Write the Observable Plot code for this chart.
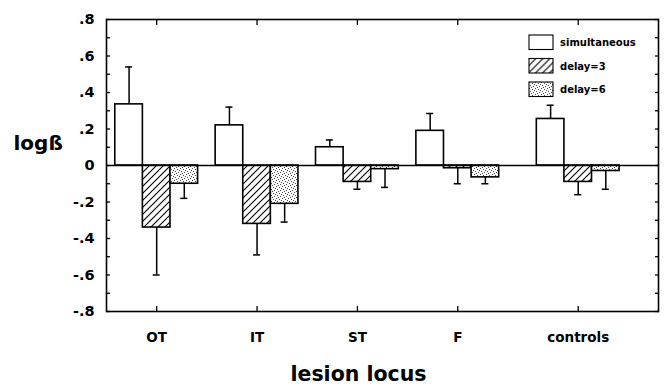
<!DOCTYPE html>
<html>
<head>
<meta charset="utf-8">
<script src="https://cdn.jsdelivr.net/npm/d3@7"></script>
<script src="https://cdn.jsdelivr.net/npm/@observablehq/plot@0.6"></script>
<style>
  html, body { margin: 0; padding: 0; background: #fff; }
  #chart { position: relative; width: 665px; height: 386px; }
  svg { font-family: "DejaVu Sans", Verdana, sans-serif; }
</style>
</head>
<body>
<div id="chart"></div>
<script>
// ---- data ----
const categories = ["OT", "IT", "ST", "F", "controls"];
const categoryPositions = [1, 2, 3, 4, 5.2];
const conditions = ["simultaneous", "delay=3", "delay=6"];
const simultaneous    = [0.335, 0.22, 0.10, 0.19, 0.255];
const simultaneousErr = [0.54, 0.32, 0.14, 0.285, 0.33];
const delay3          = [-0.34, -0.32, -0.09, -0.015, -0.09];
const delay3Err       = [-0.60, -0.49, -0.13, -0.10, -0.16];
const delay6          = [-0.10, -0.21, -0.02, -0.065, -0.03];
const delay6Err       = [-0.18, -0.31, -0.12, -0.10, -0.13];
const yTickValues = [-0.8, -0.6, -0.4, -0.2, 0, 0.2, 0.4, 0.6, 0.8];
const yMinorTicks = d3.range(-8, 9).map(i => i / 10);

// ---- styling ----
const fills = {"simultaneous": "white", "delay=3": "url(#hatch)", "delay=6": "url(#dots)"};
const barW = 0.275;
const capW = 0.035;
const offsets = {"simultaneous": -barW, "delay=3": 0, "delay=6": barW};

const series = [simultaneous, delay3, delay6];
const errs = [simultaneousErr, delay3Err, delay6Err];
const rows = [];
conditions.forEach((c, j) => {
  categories.forEach((cat, i) => {
    const xc = categoryPositions[i] + offsets[c];
    rows.push({cat, cond: c, xc, x1: xc - barW / 2, x2: xc + barW / 2, c1: xc - capW, c2: xc + capW,
      v: series[j][i], e: errs[j][i], fill: fills[c]});
  });
});

const fmt = d => d === 0 ? "0" : (d < 0 ? "-" : "") + "." + Math.round(Math.abs(d) * 10);
const catName = d => categories[categoryPositions.indexOf(d)];

const plot = Plot.plot({
  width: 665,
  height: 386,
  marginLeft: 106,
  marginRight: 7,
  marginTop: 19,
  marginBottom: 75,
  style: {fontFamily: "'DejaVu Sans', Verdana, sans-serif", background: "white", color: "black"},
  x: {type: "linear", domain: [0.5, 6], axis: null},
  y: {domain: [-0.8, 0.8], axis: null},
  color: {type: "identity"},
  marks: [
    // error bars
    Plot.ruleX(rows, {x: "xc", y1: "v", y2: "e", stroke: "black", strokeWidth: 1.5}),
    Plot.ruleY(rows, {y: "e", x1: "c1", x2: "c2", stroke: "black", strokeWidth: 1.5}),
    // bars
    Plot.rect(rows, {x1: "x1", x2: "x2", y1: 0, y2: "v", fill: "fill", stroke: "black", strokeWidth: 1.6}),
    // zero line
    Plot.ruleY([0], {stroke: "black", strokeWidth: 1.6}),
    // frame
    Plot.frame({stroke: "black", strokeWidth: 1.6}),
    // inward ticks left/right
    Plot.axisY({ticks: yMinorTicks, anchor: "left", tickSize: -4, text: null, strokeWidth: 1.3}),
    Plot.axisY({ticks: yMinorTicks, anchor: "right", tickSize: -4, text: null, strokeWidth: 1.3}),
    Plot.text(yTickValues, {y: d => d, frameAnchor: "left", textAnchor: "end", dx: -12, text: fmt,
      fontSize: 14.5, fontWeight: "bold"}),
    // inward ticks top/bottom
    Plot.axisX({ticks: categoryPositions, anchor: "top", tickSize: -5, text: null, strokeWidth: 1.3}),
    Plot.axisX({ticks: categoryPositions, anchor: "bottom", tickSize: -5, text: null, strokeWidth: 1.3}),
    Plot.text(categoryPositions, {x: d => d, frameAnchor: "bottom", lineAnchor: "middle", dy: 26, text: catName,
      fontSize: 13.5, fontWeight: "bold"}),
    // axis titles
    Plot.text(["logß"], {frameAnchor: "left", textAnchor: "start", dx: -93, dy: -22, fontSize: 20, fontWeight: "bold"}),
    Plot.text(["lesion locus"], {frameAnchor: "bottom", dx: -24, dy: 69, fontSize: 20.5, fontWeight: "bold"})
  ]
});

// patterns
const svg = d3.select(plot);
const defs = svg.insert("defs", ":first-child");
const hatch = defs.append("pattern").attr("id", "hatch").attr("patternUnits", "userSpaceOnUse")
  .attr("width", 7).attr("height", 7);
hatch.append("rect").attr("width", 7).attr("height", 7).attr("fill", "white");
hatch.append("path").attr("d", "M-1,8 L8,-1 M-1,1 L1,-1 M6,8 L8,6").attr("stroke", "black").attr("stroke-width", 1.1);
const dots = defs.append("pattern").attr("id", "dots").attr("patternUnits", "userSpaceOnUse")
  .attr("width", 6).attr("height", 6);
dots.append("rect").attr("width", 6).attr("height", 6).attr("fill", "white");
[[0,0],[3,1],[1,3],[4,4],[5,2],[2,5]].forEach(([x, y]) =>
  dots.append("rect").attr("x", x).attr("y", y).attr("width", 1).attr("height", 1).attr("fill", "#444"));

// legend (inside the plot area, top-right)
const lg = svg.append("g").attr("transform", "translate(529,35)").attr("text-anchor", "start");
conditions.forEach((c, j) => {
  const g = lg.append("g").attr("transform", `translate(0,${j * 23.5})`);
  g.append("rect").attr("width", 24).attr("height", 14.5).attr("fill", fills[c]).attr("stroke", "black").attr("stroke-width", 1.1);
  g.append("text").attr("x", 31).attr("y", 11).attr("font-size", 10).attr("font-weight", "bold").text(c);
});

document.getElementById("chart").appendChild(plot);
</script>
</body>
</html>
